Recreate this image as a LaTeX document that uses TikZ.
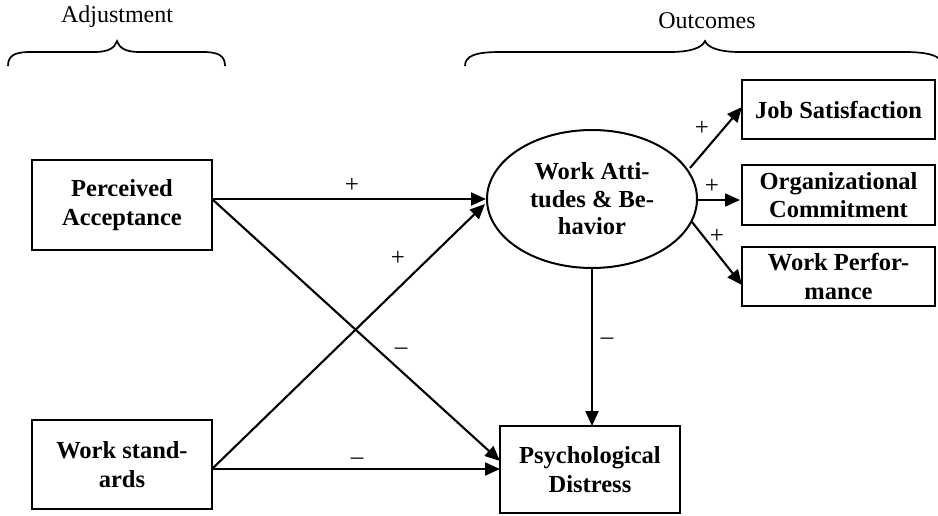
\documentclass[tikz,border=0pt]{standalone}
\usepackage{fontspec}
\setmainfont{Liberation Serif}
\usetikzlibrary{arrows.meta,shapes.geometric}
\begin{document}
\begin{tikzpicture}[x=1pt,y=-1pt,
  box/.style={draw,line width=2.2pt,align=center,font=\fontsize{24.5}{28.5}\selectfont\bfseries,inner sep=0pt},
  oval/.style={draw,ellipse,line width=2pt,align=center,font=\fontsize{24.5}{27.5}\selectfont\bfseries,inner sep=0pt,minimum width=210pt,minimum height=138pt},
  arr/.style={line width=2.1pt,-{Triangle[length=15pt,width=13pt]}},
  sgn/.style={font=\fontsize{25}{28}\selectfont,inner sep=0pt},
  hdr/.style={font=\fontsize{24}{27}\selectfont,inner sep=0pt},
  brc/.style={line width=1.7pt}]
\useasboundingbox (0,0) rectangle (938,515);
% boxes
\node[box,minimum width=180pt,minimum height=90pt] (PA) at (122,205) {Perceived\\Acceptance};
\node[box,minimum width=180pt,minimum height=89pt] (WS) at (122,464.5) {Work stand-\\ards};
\node[box,minimum width=180pt,minimum height=87pt] (PD) at (590,469.5) {Psychological\\Distress};
\node[oval] (W) at (592,199) {Work Atti-\\tudes \& Be-\\havior};
\node[box,minimum width=193pt,minimum height=59pt] (JS) at (838.5,109.5) {Job Satisfaction};
\node[box,minimum width=193pt,minimum height=60pt] (OC) at (838.5,195) {Organizational\\Commitment};
\node[box,minimum width=193pt,minimum height=59pt] (WP) at (838.5,276.5) {Work Perfor-\\mance};
% headers
\node[hdr] (adj) at (117,17) {Adjustment};
\node[hdr] (out) at (707,21) {Outcomes};
% braces
\draw[brc] (8,66) .. controls (8,56) and (14,52) .. (30,52) -- (95,52) .. controls (108,52) and (115,48) .. (117,41) .. controls (119,48) and (126,52) .. (139,52) -- (203,52) .. controls (219,52) and (225,56) .. (225,66);
\draw[brc] (465,66) .. controls (465,56) and (475,52) .. (500,52) -- (670,52) .. controls (690,52) and (702,48) .. (705,41) .. controls (708,48) and (720,52) .. (740,52) -- (905,52) .. controls (925,52) and (937,55) .. (940,60);
% connector start points
\coordinate (pa1) at (212,199);
\coordinate (ws1) at (212,469);
\coordinate (pd1) at (500,461);
\coordinate (pd2) at (500,469);
\coordinate (w1) at (485,204);
\coordinate (wb) at (592,268);
\coordinate (pdt) at (592,426);
\coordinate (w2) at (690,168);
\coordinate (js1) at (742,107);
\coordinate (w3) at (697,200);
\coordinate (oc1) at (740,200);
\coordinate (w4) at (692,222);
\coordinate (wp1) at (742,285);
% connectors
\draw[arr] (pa1) -- (W.west);
\draw[arr] (ws1) -- (w1);
\draw[arr] (pa1) -- (pd1);
\draw[arr] (ws1) -- (pd2);
\draw[arr] (wb) -- (pdt);
\draw[arr] (w2) -- (js1);
\draw[arr] (w3) -- (oc1);
\draw[arr] (w4) -- (wp1);
% signs
\node[sgn] (s1) at (352,185) {+};
\node[sgn] (s2) at (398,258) {+};
\node[sgn] (s3) at (401,351) {--};
\node[sgn] (s4) at (357,461) {--};
\node[sgn] (s5) at (607,341) {--};
\node[sgn] (s6) at (702,128) {+};
\node[sgn] (s7) at (712,186) {+};
\node[sgn] (s8) at (717,236) {+};
\end{tikzpicture}
\end{document}
